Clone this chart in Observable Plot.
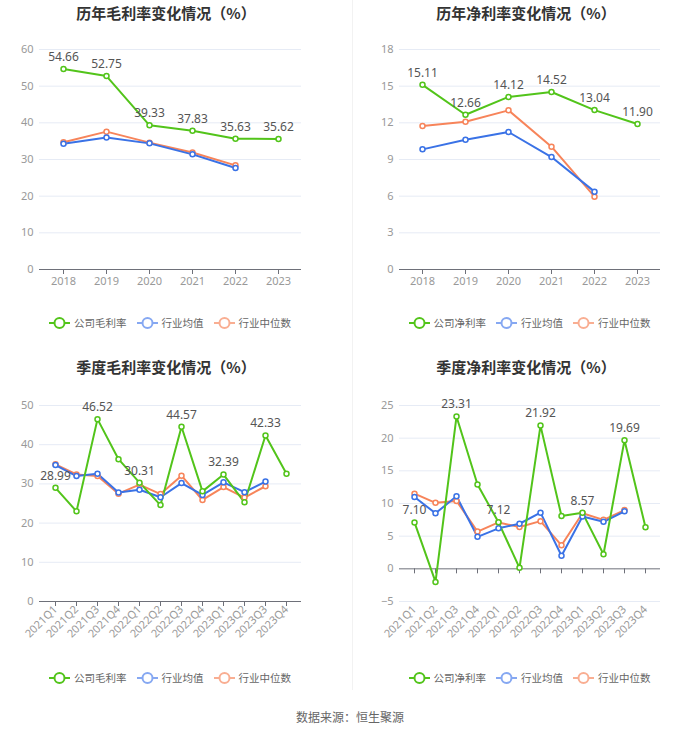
<!DOCTYPE html>
<html>
<head>
<meta charset="utf-8">
<script src="https://cdn.jsdelivr.net/npm/d3@7"></script>
<script src="https://cdn.jsdelivr.net/npm/@observablehq/plot@0.6"></script>
<style>
  html, body { margin: 0; padding: 0; background: #fff; }
  body { width: 700px; height: 734px; position: relative; overflow: hidden;
         font-family: "Noto Sans CJK SC", "Noto Sans", sans-serif; }
  .title { position: absolute; text-align: center; font-weight: bold; font-size: 15px; color: #333; width: 332px; }
  .legend { position: absolute; display: flex; justify-content: center; align-items: center; gap: 10px;
            font-size: 10.5px; color: #666; white-space: nowrap; }
  .legend .item { display: flex; align-items: center; gap: 4px; white-space: nowrap; }
  .plotbox { position: absolute; }
  .footer { position: absolute; top: 708px; left: 0; width: 700px; text-align: center; font-size: 12px; color: #666; }
  .sep { position: absolute; left: 352px; top: 0; width: 1px; height: 690px; background: #f2f2f2; }
</style>
</head>
<body>
<div class="sep"></div>
<script>
// ---------- data ----------
const years = ["2018", "2019", "2020", "2021", "2022", "2023"];
const quarters = ["2021Q1","2021Q2","2021Q3","2021Q4","2022Q1","2022Q2","2022Q3","2022Q4","2023Q1","2023Q2","2023Q3","2023Q4"];

const annualGrossCompany = [54.66, 52.75, 39.33, 37.83, 35.63, 35.62];
const annualGrossAvg     = [34.3, 36.0, 34.4, 31.4, 27.7];
const annualGrossMedian  = [34.7, 37.6, 34.6, 31.9, 28.4];

const annualNetCompany = [15.11, 12.66, 14.12, 14.52, 13.04, 11.90];
const annualNetAvg     = [9.83, 10.62, 11.25, 9.2, 6.37];
const annualNetMedian  = [11.74, 12.09, 13.02, 10.05, 5.96];

const qGrossCompany = [28.99, 23.0, 46.52, 36.3, 30.31, 24.6, 44.57, 28.1, 32.39, 25.3, 42.33, 32.6];
const qGrossAvg     = [34.8, 32.0, 32.6, 27.8, 28.5, 26.6, 30.2, 27.2, 30.4, 27.9, 30.6];
const qGrossMedian  = [35.0, 32.4, 32.0, 27.5, 29.8, 27.4, 32.1, 25.9, 29.2, 26.5, 29.4];

const qNetCompany = [7.10, -2.0, 23.31, 12.9, 7.12, 0.15, 21.92, 8.08, 8.57, 2.24, 19.69, 6.35];
const qNetAvg     = [11.0, 8.5, 11.1, 4.9, 6.2, 6.9, 8.6, 2.0, 8.0, 7.2, 8.8];
const qNetMedian  = [11.5, 10.1, 10.4, 5.7, 7.1, 6.4, 7.3, 3.6, 8.5, 7.5, 9.0];

const panels = [
  {title: "历年毛利率变化情况（%）", cats: years, company: annualGrossCompany, avg: annualGrossAvg, median: annualGrossMedian,
   companyName: "公司毛利率", yDomain: [0, 60], yTicks: [0,10,20,30,40,50,60], labelAll: true, rotate: false},
  {title: "历年净利率变化情况（%）", cats: years, company: annualNetCompany, avg: annualNetAvg, median: annualNetMedian,
   companyName: "公司净利率", yDomain: [0, 18], yTicks: [0,3,6,9,12,15,18], labelAll: true, rotate: false},
  {title: "季度毛利率变化情况（%）", cats: quarters, company: qGrossCompany, avg: qGrossAvg, median: qGrossMedian,
   companyName: "公司毛利率", yDomain: [0, 50], yTicks: [0,10,20,30,40,50], labelAll: false, rotate: true},
  {title: "季度净利率变化情况（%）", cats: quarters, company: qNetCompany, avg: qNetAvg, median: qNetMedian,
   companyName: "公司净利率", yDomain: [-5, 25], yTicks: [-5,0,5,10,15,20,25], labelAll: false, rotate: true}
];

const GREEN = "#52c41a", BLUE = "#3a72e6", ORANGE = "#f7845a";
const LBLUE = "#86a8f2", LORANGE = "#f9ae92";

const layout = [
  {left: 0,   top: 0,   titleTop: 2,   svgTop: 30,  height: 269, mb: 30, mt: 19, mr: 39, legendTop: 315},
  {left: 360, top: 0,   titleTop: 2,   svgTop: 30,  height: 269, mb: 30, mt: 19, mr: 40, legendTop: 315},
  {left: 0,   top: 350, titleTop: 356, svgTop: 380, height: 275, mb: 54, mt: 25, mr: 39, legendTop: 670},
  {left: 360, top: 350, titleTop: 356, svgTop: 380, height: 275, mb: 54, mt: 25, mr: 40, legendTop: 670}
];

function legendIcon(color) {
  return `<svg width="21" height="14"><line x1="0" y1="7" x2="21" y2="7" stroke="${color}" stroke-width="2"/>` +
         `<circle cx="10.5" cy="7" r="5" fill="#fff" stroke="${color}" stroke-width="2"/></svg>`;
}

panels.forEach((p, k) => {
  const L = layout[k];
  const t = document.createElement("div");
  t.className = "title";
  t.style.left = L.left + "px";
  t.style.top = L.titleTop + "px";
  t.textContent = p.title;
  document.body.appendChild(t);

  const comp = p.cats.map((c, i) => ({cat: c, v: p.company[i], i}));
  const avg = p.avg.map((v, i) => ({cat: p.cats[i], v}));
  const med = p.median.map((v, i) => ({cat: p.cats[i], v}));
  const labeled = comp.filter(d => p.labelAll || d.i % 2 === 0);

  const chart = Plot.plot({
    width: 340,
    height: L.height,
    marginLeft: 39,
    marginRight: L.mr,
    marginTop: L.mt,
    marginBottom: L.mb,
    style: {fontFamily: '"Noto Sans", "Noto Sans CJK SC", sans-serif', fontSize: "11px", background: "transparent"},
    x: {type: "point", domain: p.cats, padding: 0.5, label: null},
    y: {domain: p.yDomain, label: null},
    marks: [
      Plot.ruleY(p.yTicks.filter(v => v !== 0), {stroke: "#e6ebf5", strokeWidth: 1}),
      Plot.axisY({ticks: p.yTicks, tickSize: 0, tickPadding: 6, fill: "#999", label: null}),
      Plot.axisX({tickSize: 0, tickPadding: p.rotate ? 6 : 8, fill: "#999", label: null,
                  tickRotate: p.rotate ? -45 : 0}),
      Plot.ruleY([0], {stroke: "#6e7079", strokeWidth: 1}),
      Plot.ruleX(p.cats, {x: d => d, y1: 0, y2: 0, insetBottom: -5, stroke: "#6e7079", strokeWidth: 1}),
      Plot.line(med, {x: "cat", y: "v", stroke: ORANGE, strokeWidth: 2}),
      Plot.line(avg, {x: "cat", y: "v", stroke: BLUE, strokeWidth: 2}),
      Plot.line(comp, {x: "cat", y: "v", stroke: GREEN, strokeWidth: 2}),
      Plot.dot(med, {x: "cat", y: "v", r: 2.5, fill: "#fff", stroke: ORANGE, strokeWidth: 1.5}),
      Plot.dot(avg, {x: "cat", y: "v", r: 2.5, fill: "#fff", stroke: BLUE, strokeWidth: 1.5}),
      Plot.dot(comp, {x: "cat", y: "v", r: 2.5, fill: "#fff", stroke: GREEN, strokeWidth: 1.5}),
      Plot.text(labeled, {x: "cat", y: "v", text: d => d.v.toFixed(2), dy: -12, fill: "#555", fontSize: 12})
    ]
  });
  const box = document.createElement("div");
  box.className = "plotbox";
  box.style.left = L.left + "px";
  box.style.top = L.svgTop + "px";
  box.appendChild(chart);
  document.body.appendChild(box);

  const center = L.left + 39 + (340 - 39 - L.mr) / 2;
  const lg = document.createElement("div");
  lg.className = "legend";
  lg.style.left = (center - 160) + "px";
  lg.style.width = "320px";
  lg.style.top = L.legendTop + "px";
  lg.innerHTML =
    `<span class="item">${legendIcon(GREEN)}<span>${p.companyName}</span></span>` +
    `<span class="item">${legendIcon(LBLUE)}<span>行业均值</span></span>` +
    `<span class="item">${legendIcon(LORANGE)}<span>行业中位数</span></span>`;
  document.body.appendChild(lg);
});

const f = document.createElement("div");
f.className = "footer";
f.textContent = "数据来源：恒生聚源";
document.body.appendChild(f);
</script>
</body>
</html>
